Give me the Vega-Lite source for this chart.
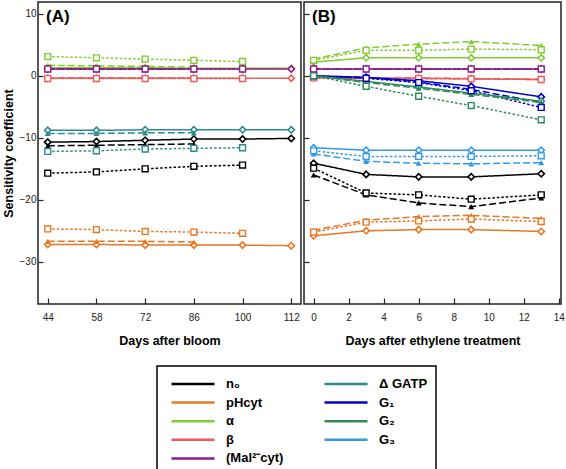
{
 "$schema": "https://vega.github.io/schema/vega-lite/v6.json",
 "padding": {"left": 1, "top": 1, "right": 0, "bottom": 0},
 "config": {
  "font": "Liberation Sans",
  "view": {"stroke": "#222", "strokeWidth": 1.5},
  "axis": {"grid": false, "domain": false, "labelFont": "Liberation Sans", "labelFontSize": 10, "labelColor": "#222", "titleFont": "Liberation Sans", "titleFontSize": 12.5, "titleFontWeight": "bold", "titleColor": "#000", "tickColor": "#222", "tickWidth": 1.2},
  "legend": {"strokeWidth": 1.5}
 },
 "datasets": {
  "d": [
   {"p":"A","k":"n₀","s":"S1","d":44,"v":-10.7},{"p":"A","k":"n₀","s":"S1","d":58,"v":-10.6},{"p":"A","k":"n₀","s":"S1","d":72,"v":-10.4},{"p":"A","k":"n₀","s":"S1","d":86,"v":-10.2},{"p":"A","k":"n₀","s":"S1","d":100,"v":-10.2},{"p":"A","k":"n₀","s":"S1","d":112,"v":-10.1},
   {"p":"A","k":"n₀","s":"S2","d":44,"v":-11.3},{"p":"A","k":"n₀","s":"S2","d":58,"v":-11.2},{"p":"A","k":"n₀","s":"S2","d":72,"v":-11.1},{"p":"A","k":"n₀","s":"S2","d":86,"v":-11.0},
   {"p":"A","k":"n₀","s":"S3","d":44,"v":-15.7},{"p":"A","k":"n₀","s":"S3","d":58,"v":-15.5},{"p":"A","k":"n₀","s":"S3","d":72,"v":-15.0},{"p":"A","k":"n₀","s":"S3","d":86,"v":-14.6},{"p":"A","k":"n₀","s":"S3","d":100,"v":-14.4},
   {"p":"A","k":"pHcyt","s":"S1","d":44,"v":-27.2},{"p":"A","k":"pHcyt","s":"S1","d":58,"v":-27.2},{"p":"A","k":"pHcyt","s":"S1","d":72,"v":-27.3},{"p":"A","k":"pHcyt","s":"S1","d":86,"v":-27.3},{"p":"A","k":"pHcyt","s":"S1","d":100,"v":-27.3},{"p":"A","k":"pHcyt","s":"S1","d":112,"v":-27.4},
   {"p":"A","k":"pHcyt","s":"S2","d":44,"v":-26.7},{"p":"A","k":"pHcyt","s":"S2","d":58,"v":-26.7},{"p":"A","k":"pHcyt","s":"S2","d":72,"v":-26.7},{"p":"A","k":"pHcyt","s":"S2","d":86,"v":-26.8},
   {"p":"A","k":"pHcyt","s":"S3","d":44,"v":-24.7},{"p":"A","k":"pHcyt","s":"S3","d":58,"v":-24.8},{"p":"A","k":"pHcyt","s":"S3","d":72,"v":-25.1},{"p":"A","k":"pHcyt","s":"S3","d":86,"v":-25.2},{"p":"A","k":"pHcyt","s":"S3","d":100,"v":-25.4},
   {"p":"A","k":"α","s":"S1","d":44,"v":1.3},{"p":"A","k":"α","s":"S1","d":58,"v":1.3},{"p":"A","k":"α","s":"S1","d":72,"v":1.3},{"p":"A","k":"α","s":"S1","d":86,"v":1.2},{"p":"A","k":"α","s":"S1","d":100,"v":1.2},{"p":"A","k":"α","s":"S1","d":112,"v":1.2},
   {"p":"A","k":"α","s":"S2","d":44,"v":1.7},{"p":"A","k":"α","s":"S2","d":58,"v":1.6},{"p":"A","k":"α","s":"S2","d":72,"v":1.5},{"p":"A","k":"α","s":"S2","d":86,"v":1.4},
   {"p":"A","k":"α","s":"S3","d":44,"v":3.1},{"p":"A","k":"α","s":"S3","d":58,"v":2.9},{"p":"A","k":"α","s":"S3","d":72,"v":2.7},{"p":"A","k":"α","s":"S3","d":86,"v":2.5},{"p":"A","k":"α","s":"S3","d":100,"v":2.3},
   {"p":"A","k":"β","s":"S1","d":44,"v":-0.4},{"p":"A","k":"β","s":"S1","d":58,"v":-0.4},{"p":"A","k":"β","s":"S1","d":72,"v":-0.4},{"p":"A","k":"β","s":"S1","d":86,"v":-0.4},{"p":"A","k":"β","s":"S1","d":100,"v":-0.4},{"p":"A","k":"β","s":"S1","d":112,"v":-0.4},
   {"p":"A","k":"β","s":"S2","d":44,"v":-0.35},{"p":"A","k":"β","s":"S2","d":58,"v":-0.35},{"p":"A","k":"β","s":"S2","d":72,"v":-0.35},{"p":"A","k":"β","s":"S2","d":86,"v":-0.35},
   {"p":"A","k":"β","s":"S3","d":44,"v":-0.45},{"p":"A","k":"β","s":"S3","d":58,"v":-0.45},{"p":"A","k":"β","s":"S3","d":72,"v":-0.45},{"p":"A","k":"β","s":"S3","d":86,"v":-0.45},{"p":"A","k":"β","s":"S3","d":100,"v":-0.45},
   {"p":"A","k":"(Mal²⁻cyt)","s":"S1","d":44,"v":1.1},{"p":"A","k":"(Mal²⁻cyt)","s":"S1","d":58,"v":1.1},{"p":"A","k":"(Mal²⁻cyt)","s":"S1","d":72,"v":1.1},{"p":"A","k":"(Mal²⁻cyt)","s":"S1","d":86,"v":1.1},{"p":"A","k":"(Mal²⁻cyt)","s":"S1","d":100,"v":1.1},{"p":"A","k":"(Mal²⁻cyt)","s":"S1","d":112,"v":1.1},
   {"p":"A","k":"(Mal²⁻cyt)","s":"S2","d":44,"v":1.1},{"p":"A","k":"(Mal²⁻cyt)","s":"S2","d":58,"v":1.1},{"p":"A","k":"(Mal²⁻cyt)","s":"S2","d":72,"v":1.1},{"p":"A","k":"(Mal²⁻cyt)","s":"S2","d":86,"v":1.1},
   {"p":"A","k":"(Mal²⁻cyt)","s":"S3","d":44,"v":1.1},{"p":"A","k":"(Mal²⁻cyt)","s":"S3","d":58,"v":1.1},{"p":"A","k":"(Mal²⁻cyt)","s":"S3","d":72,"v":1.1},{"p":"A","k":"(Mal²⁻cyt)","s":"S3","d":86,"v":1.1},{"p":"A","k":"(Mal²⁻cyt)","s":"S3","d":100,"v":1.1},
   {"p":"A","k":"ΔGATP","s":"S1","d":44,"v":-8.8},{"p":"A","k":"ΔGATP","s":"S1","d":58,"v":-8.8},{"p":"A","k":"ΔGATP","s":"S1","d":72,"v":-8.7},{"p":"A","k":"ΔGATP","s":"S1","d":86,"v":-8.7},{"p":"A","k":"ΔGATP","s":"S1","d":100,"v":-8.7},{"p":"A","k":"ΔGATP","s":"S1","d":112,"v":-8.7},
   {"p":"A","k":"ΔGATP","s":"S2","d":44,"v":-9.3},{"p":"A","k":"ΔGATP","s":"S2","d":58,"v":-9.3},{"p":"A","k":"ΔGATP","s":"S2","d":72,"v":-9.2},{"p":"A","k":"ΔGATP","s":"S2","d":86,"v":-9.2},
   {"p":"A","k":"ΔGATP","s":"S3","d":44,"v":-12.2},{"p":"A","k":"ΔGATP","s":"S3","d":58,"v":-12.1},{"p":"A","k":"ΔGATP","s":"S3","d":72,"v":-11.8},{"p":"A","k":"ΔGATP","s":"S3","d":86,"v":-11.7},{"p":"A","k":"ΔGATP","s":"S3","d":100,"v":-11.6},

   {"p":"B","k":"n₀","s":"S1","d":0,"v":-14.1},{"p":"B","k":"n₀","s":"S1","d":3,"v":-15.9},{"p":"B","k":"n₀","s":"S1","d":6,"v":-16.3},{"p":"B","k":"n₀","s":"S1","d":9,"v":-16.3},{"p":"B","k":"n₀","s":"S1","d":13,"v":-15.8},
   {"p":"B","k":"n₀","s":"S2","d":0,"v":-16.0},{"p":"B","k":"n₀","s":"S2","d":3,"v":-19.2},{"p":"B","k":"n₀","s":"S2","d":6,"v":-20.5},{"p":"B","k":"n₀","s":"S2","d":9,"v":-21.1},{"p":"B","k":"n₀","s":"S2","d":13,"v":-19.7},
   {"p":"B","k":"n₀","s":"S3","d":0,"v":-14.9},{"p":"B","k":"n₀","s":"S3","d":3,"v":-18.9},{"p":"B","k":"n₀","s":"S3","d":6,"v":-19.2},{"p":"B","k":"n₀","s":"S3","d":9,"v":-19.9},{"p":"B","k":"n₀","s":"S3","d":13,"v":-19.2},
   {"p":"B","k":"pHcyt","s":"S1","d":0,"v":-25.8},{"p":"B","k":"pHcyt","s":"S1","d":3,"v":-25.0},{"p":"B","k":"pHcyt","s":"S1","d":6,"v":-24.8},{"p":"B","k":"pHcyt","s":"S1","d":9,"v":-24.8},{"p":"B","k":"pHcyt","s":"S1","d":13,"v":-25.1},
   {"p":"B","k":"pHcyt","s":"S2","d":0,"v":-24.9},{"p":"B","k":"pHcyt","s":"S2","d":3,"v":-23.3},{"p":"B","k":"pHcyt","s":"S2","d":6,"v":-22.7},{"p":"B","k":"pHcyt","s":"S2","d":9,"v":-22.5},{"p":"B","k":"pHcyt","s":"S2","d":13,"v":-23.0},
   {"p":"B","k":"pHcyt","s":"S3","d":0,"v":-25.2},{"p":"B","k":"pHcyt","s":"S3","d":3,"v":-23.6},{"p":"B","k":"pHcyt","s":"S3","d":6,"v":-23.4},{"p":"B","k":"pHcyt","s":"S3","d":9,"v":-23.1},{"p":"B","k":"pHcyt","s":"S3","d":13,"v":-23.5},
   {"p":"B","k":"α","s":"S1","d":0,"v":2.2},{"p":"B","k":"α","s":"S1","d":3,"v":2.9},{"p":"B","k":"α","s":"S1","d":6,"v":2.9},{"p":"B","k":"α","s":"S1","d":9,"v":2.9},{"p":"B","k":"α","s":"S1","d":13,"v":2.9},
   {"p":"B","k":"α","s":"S2","d":0,"v":2.7},{"p":"B","k":"α","s":"S2","d":3,"v":4.5},{"p":"B","k":"α","s":"S2","d":6,"v":5.1},{"p":"B","k":"α","s":"S2","d":9,"v":5.5},{"p":"B","k":"α","s":"S2","d":13,"v":4.9},
   {"p":"B","k":"α","s":"S3","d":0,"v":2.5},{"p":"B","k":"α","s":"S3","d":3,"v":4.1},{"p":"B","k":"α","s":"S3","d":6,"v":4.1},{"p":"B","k":"α","s":"S3","d":9,"v":4.3},{"p":"B","k":"α","s":"S3","d":13,"v":4.2},
   {"p":"B","k":"β","s":"S1","d":0,"v":-0.3},{"p":"B","k":"β","s":"S1","d":3,"v":-0.4},{"p":"B","k":"β","s":"S1","d":6,"v":-0.4},{"p":"B","k":"β","s":"S1","d":9,"v":-0.5},{"p":"B","k":"β","s":"S1","d":13,"v":-0.6},
   {"p":"B","k":"β","s":"S2","d":0,"v":-0.3},{"p":"B","k":"β","s":"S2","d":3,"v":-0.35},{"p":"B","k":"β","s":"S2","d":6,"v":-0.35},{"p":"B","k":"β","s":"S2","d":9,"v":-0.45},{"p":"B","k":"β","s":"S2","d":13,"v":-0.55},
   {"p":"B","k":"β","s":"S3","d":0,"v":-0.35},{"p":"B","k":"β","s":"S3","d":3,"v":-0.45},{"p":"B","k":"β","s":"S3","d":6,"v":-0.45},{"p":"B","k":"β","s":"S3","d":9,"v":-0.5},{"p":"B","k":"β","s":"S3","d":13,"v":-0.6},
   {"p":"B","k":"(Mal²⁻cyt)","s":"S1","d":0,"v":1.1},{"p":"B","k":"(Mal²⁻cyt)","s":"S1","d":3,"v":1.1},{"p":"B","k":"(Mal²⁻cyt)","s":"S1","d":6,"v":1.1},{"p":"B","k":"(Mal²⁻cyt)","s":"S1","d":9,"v":1.1},{"p":"B","k":"(Mal²⁻cyt)","s":"S1","d":13,"v":1.1},
   {"p":"B","k":"(Mal²⁻cyt)","s":"S2","d":0,"v":1.1},{"p":"B","k":"(Mal²⁻cyt)","s":"S2","d":3,"v":1.1},{"p":"B","k":"(Mal²⁻cyt)","s":"S2","d":6,"v":1.1},{"p":"B","k":"(Mal²⁻cyt)","s":"S2","d":9,"v":1.1},{"p":"B","k":"(Mal²⁻cyt)","s":"S2","d":13,"v":1.1},
   {"p":"B","k":"(Mal²⁻cyt)","s":"S3","d":0,"v":1.1},{"p":"B","k":"(Mal²⁻cyt)","s":"S3","d":3,"v":1.1},{"p":"B","k":"(Mal²⁻cyt)","s":"S3","d":6,"v":1.1},{"p":"B","k":"(Mal²⁻cyt)","s":"S3","d":9,"v":1.1},{"p":"B","k":"(Mal²⁻cyt)","s":"S3","d":13,"v":1.1},
   {"p":"B","k":"G₁","s":"S1","d":0,"v":0.0},{"p":"B","k":"G₁","s":"S1","d":3,"v":-0.25},{"p":"B","k":"G₁","s":"S1","d":6,"v":-0.8},{"p":"B","k":"G₁","s":"S1","d":9,"v":-1.7},{"p":"B","k":"G₁","s":"S1","d":13,"v":-3.4},
   {"p":"B","k":"G₁","s":"S2","d":0,"v":0.0},{"p":"B","k":"G₁","s":"S2","d":3,"v":-0.3},{"p":"B","k":"G₁","s":"S2","d":6,"v":-1.0},{"p":"B","k":"G₁","s":"S2","d":9,"v":-2.2},{"p":"B","k":"G₁","s":"S2","d":13,"v":-4.3},
   {"p":"B","k":"G₁","s":"S3","d":0,"v":0.0},{"p":"B","k":"G₁","s":"S3","d":3,"v":-0.4},{"p":"B","k":"G₁","s":"S3","d":6,"v":-1.1},{"p":"B","k":"G₁","s":"S3","d":9,"v":-2.4},{"p":"B","k":"G₁","s":"S3","d":13,"v":-5.1},
   {"p":"B","k":"G₂","s":"S1","d":0,"v":0.0},{"p":"B","k":"G₂","s":"S1","d":3,"v":-0.9},{"p":"B","k":"G₂","s":"S1","d":6,"v":-1.8},{"p":"B","k":"G₂","s":"S1","d":9,"v":-2.8},{"p":"B","k":"G₂","s":"S1","d":13,"v":-4.1},
   {"p":"B","k":"G₂","s":"S2","d":0,"v":0.0},{"p":"B","k":"G₂","s":"S2","d":3,"v":-1.1},{"p":"B","k":"G₂","s":"S2","d":6,"v":-2.0},{"p":"B","k":"G₂","s":"S2","d":9,"v":-3.0},{"p":"B","k":"G₂","s":"S2","d":13,"v":-4.3},
   {"p":"B","k":"G₂","s":"S3","d":0,"v":0.0},{"p":"B","k":"G₂","s":"S3","d":3,"v":-1.7},{"p":"B","k":"G₂","s":"S3","d":6,"v":-3.3},{"p":"B","k":"G₂","s":"S3","d":9,"v":-4.8},{"p":"B","k":"G₂","s":"S3","d":13,"v":-7.1},
   {"p":"B","k":"G₃","s":"S1","d":0,"v":-11.6},{"p":"B","k":"G₃","s":"S1","d":3,"v":-12.0},{"p":"B","k":"G₃","s":"S1","d":6,"v":-12.0},{"p":"B","k":"G₃","s":"S1","d":9,"v":-12.0},{"p":"B","k":"G₃","s":"S1","d":13,"v":-12.0},
   {"p":"B","k":"G₃","s":"S2","d":0,"v":-12.6},{"p":"B","k":"G₃","s":"S2","d":3,"v":-13.8},{"p":"B","k":"G₃","s":"S2","d":6,"v":-14.1},{"p":"B","k":"G₃","s":"S2","d":9,"v":-14.2},{"p":"B","k":"G₃","s":"S2","d":13,"v":-14.0},
   {"p":"B","k":"G₃","s":"S3","d":0,"v":-12.1},{"p":"B","k":"G₃","s":"S3","d":3,"v":-13.0},{"p":"B","k":"G₃","s":"S3","d":6,"v":-13.0},{"p":"B","k":"G₃","s":"S3","d":9,"v":-13.0},{"p":"B","k":"G₃","s":"S3","d":13,"v":-12.9}
  ]
 },
 "data": {"name": "d"},
 "spacing": 0,
 "hconcat": [
  {
   "width": 263, "height": 302,
   "title": {"text": "(A)", "anchor": "start", "frame": "group", "fontSize": 17, "fontWeight": "bold", "font": "Liberation Sans", "dx": 8, "dy": 24, "offset": 0},
   "transform": [{"filter": "datum.p == 'A'"}],
   "encoding": {
    "x": {"field": "d", "type": "ordinal", "scale": {"type": "point", "padding": 0.2}, "axis": {"title": "Days after bloom", "labelAngle": 0, "tickSize": -6, "labelPadding": 14, "titlePadding": 12}},
    "y": {"field": "v", "type": "quantitative", "scale": {"domain": [-36.8, 11.9], "nice": false, "zero": false}, "axis": {"title": "Sensitivity coefficient", "values": [-30, -20, -10, 0, 10], "tickSize": -5, "labelPadding": 7, "titlePadding": 4}}
   },
   "layer": [
    {"mark": {"type": "line", "strokeWidth": 1.5},
     "encoding": {
      "color": {"field": "k", "type": "nominal", "scale": {"domain": ["n₀", "pHcyt", "α", "β", "(Mal²⁻cyt)", "ΔGATP", "G₁", "G₂", "G₃"], "range": ["#000000", "#E87722", "#80CC33", "#F05A5A", "#8B1A8B", "#2A8C8C", "#0000CC", "#2E8B57", "#3399E6"]},
       "legend": {"orient": "none", "legendX": 119, "legendY": 364, "columns": 2, "title": null, "symbolType": "M-0.41,0H4.65", "symbolSize": 289, "symbolStrokeWidth": 2.5, "symbolFillColor": "transparent", "labelFont": "Liberation Sans", "labelFontSize": 13, "labelFontWeight": "bold", "labelColor": "#000", "labelOffset": 41, "rowPadding": 1.6, "columnPadding": 34, "strokeColor": "#000", "padding": 8, "labelLimit": 200, "labelExpr": "datum.label == 'ΔGATP' ? 'Δ\u00a0GATP\u00a0\u00a0\u00a0\u00a0' : datum.label"}},
      "strokeDash": {"field": "s", "type": "nominal", "scale": {"domain": ["S1", "S2", "S3"], "range": [[1, 0], [7, 3], [2.5, 2]]}, "legend": null}
     }},
    {"transform": [{"filter": "datum.s == 'S1'"}], "mark": {"type": "point", "shape": "diamond", "filled": false, "fill": "white", "fillOpacity": 1, "size": 40, "strokeWidth": 1.6, "opacity": 1},
     "encoding": {"color": {"field": "k", "type": "nominal", "scale": {"domain": ["n₀", "pHcyt", "α", "β", "(Mal²⁻cyt)", "ΔGATP", "G₁", "G₂", "G₃"], "range": ["#000000", "#E87722", "#80CC33", "#F05A5A", "#8B1A8B", "#2A8C8C", "#0000CC", "#2E8B57", "#3399E6"]}, "legend": null}}},
    {"transform": [{"filter": "datum.s == 'S2'"}], "mark": {"type": "point", "shape": "triangle-up", "filled": true, "size": 35, "opacity": 1},
     "encoding": {"color": {"field": "k", "type": "nominal", "scale": {"domain": ["n₀", "pHcyt", "α", "β", "(Mal²⁻cyt)", "ΔGATP", "G₁", "G₂", "G₃"], "range": ["#000000", "#E87722", "#80CC33", "#F05A5A", "#8B1A8B", "#2A8C8C", "#0000CC", "#2E8B57", "#3399E6"]}, "legend": null}}},
    {"transform": [{"filter": "datum.s == 'S3'"}], "mark": {"type": "point", "shape": "square", "filled": false, "fill": "white", "fillOpacity": 1, "size": 35, "strokeWidth": 1.4, "opacity": 1},
     "encoding": {"color": {"field": "k", "type": "nominal", "scale": {"domain": ["n₀", "pHcyt", "α", "β", "(Mal²⁻cyt)", "ΔGATP", "G₁", "G₂", "G₃"], "range": ["#000000", "#E87722", "#80CC33", "#F05A5A", "#8B1A8B", "#2A8C8C", "#0000CC", "#2E8B57", "#3399E6"]}, "legend": null}}}
   ]
  },
  {
   "width": 257, "height": 302,
   "title": {"text": "(B)", "anchor": "start", "frame": "group", "fontSize": 17, "fontWeight": "bold", "font": "Liberation Sans", "dx": 8, "dy": 24, "offset": 0},
   "transform": [{"filter": "datum.p == 'B'"}],
   "encoding": {
    "x": {"field": "d", "type": "quantitative", "scale": {"domain": [-0.55, 14.13], "nice": false, "zero": false}, "axis": {"title": "Days after ethylene treatment", "values": [0, 2, 4, 6, 8, 10, 12, 14], "tickSize": -6, "labelPadding": 14, "titlePadding": 12}},
    "y": {"field": "v", "type": "quantitative", "scale": {"domain": [-36.8, 11.9], "nice": false, "zero": false}, "axis": {"title": null, "labels": false, "values": [-30, -20, -10, 0, 10], "tickSize": -5}}
   },
   "layer": [
    {"mark": {"type": "line", "strokeWidth": 1.5},
     "encoding": {
      "color": {"field": "k", "type": "nominal", "scale": {"domain": ["n₀", "pHcyt", "α", "β", "(Mal²⁻cyt)", "ΔGATP", "G₁", "G₂", "G₃"], "range": ["#000000", "#E87722", "#80CC33", "#F05A5A", "#8B1A8B", "#2A8C8C", "#0000CC", "#2E8B57", "#3399E6"]}},
      "strokeDash": {"field": "s", "type": "nominal", "scale": {"domain": ["S1", "S2", "S3"], "range": [[1, 0], [7, 3], [2.5, 2]]}, "legend": null}
     }},
    {"transform": [{"filter": "datum.s == 'S1'"}], "mark": {"type": "point", "shape": "diamond", "filled": false, "fill": "white", "fillOpacity": 1, "size": 40, "strokeWidth": 1.6, "opacity": 1},
     "encoding": {"color": {"field": "k", "type": "nominal", "scale": {"domain": ["n₀", "pHcyt", "α", "β", "(Mal²⁻cyt)", "ΔGATP", "G₁", "G₂", "G₃"], "range": ["#000000", "#E87722", "#80CC33", "#F05A5A", "#8B1A8B", "#2A8C8C", "#0000CC", "#2E8B57", "#3399E6"]}, "legend": null}}},
    {"transform": [{"filter": "datum.s == 'S2'"}], "mark": {"type": "point", "shape": "triangle-up", "filled": true, "size": 35, "opacity": 1},
     "encoding": {"color": {"field": "k", "type": "nominal", "scale": {"domain": ["n₀", "pHcyt", "α", "β", "(Mal²⁻cyt)", "ΔGATP", "G₁", "G₂", "G₃"], "range": ["#000000", "#E87722", "#80CC33", "#F05A5A", "#8B1A8B", "#2A8C8C", "#0000CC", "#2E8B57", "#3399E6"]}, "legend": null}}},
    {"transform": [{"filter": "datum.s == 'S3'"}], "mark": {"type": "point", "shape": "square", "filled": false, "fill": "white", "fillOpacity": 1, "size": 35, "strokeWidth": 1.4, "opacity": 1},
     "encoding": {"color": {"field": "k", "type": "nominal", "scale": {"domain": ["n₀", "pHcyt", "α", "β", "(Mal²⁻cyt)", "ΔGATP", "G₁", "G₂", "G₃"], "range": ["#000000", "#E87722", "#80CC33", "#F05A5A", "#8B1A8B", "#2A8C8C", "#0000CC", "#2E8B57", "#3399E6"]}, "legend": null}}}
   ]
  }
 ]
}
